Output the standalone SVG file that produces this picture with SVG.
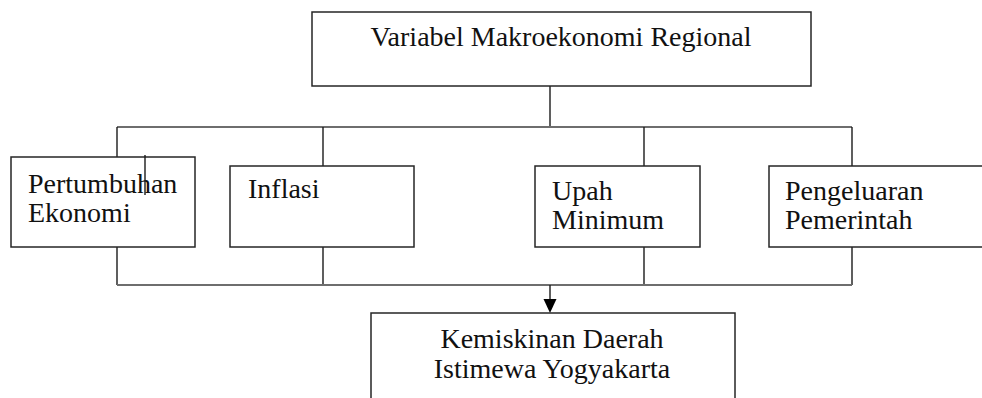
<svg xmlns="http://www.w3.org/2000/svg" width="982" height="398" viewBox="0 0 982 398">
  <style>
    .box { fill: #ffffff; stroke: #262626; stroke-width: 1.5; }
    .v { stroke: #1a1a1a; stroke-width: 1.4; fill: none; }
    .h { stroke: #6e6e6e; stroke-width: 2.2; fill: none; }
    text { font-family: "Liberation Serif", "Times New Roman", serif; font-size: 28px; fill: #111111; }
    .c { text-anchor: middle; }
  </style>
  <rect width="982" height="398" fill="#ffffff"/>

  <g id="connectors">
    <!-- trunk from the top box down to the upper bus -->
    <line class="v" x1="550" y1="86" x2="550" y2="127"/>
    <!-- upper bus -->
    <line class="h" x1="117" y1="127" x2="852" y2="127"/>
    <!-- drops to each variable box -->
    <line class="v" x1="117" y1="127" x2="117" y2="157"/>
    <line class="v" x1="323" y1="127" x2="323" y2="166"/>
    <line class="v" x1="644" y1="127" x2="644" y2="166"/>
    <line class="v" x1="852" y1="127" x2="852" y2="166"/>
    <!-- rises from each variable box to the lower bus -->
    <line class="v" x1="117" y1="247" x2="117" y2="285"/>
    <line class="v" x1="323" y1="247" x2="323" y2="285"/>
    <line class="v" x1="644" y1="247" x2="644" y2="285"/>
    <line class="v" x1="852" y1="247" x2="852" y2="285"/>
    <!-- lower bus -->
    <line class="h" x1="117" y1="285" x2="852" y2="285"/>
    <!-- arrow into the outcome box -->
    <line class="v" x1="550" y1="285" x2="550" y2="300"/>
    <path d="M543.5,299 L556.5,299 L550,313 Z" fill="#000000"/>
  </g>

  <g id="node-variabel">
    <rect class="box" x="312" y="12" width="499" height="74"/>
    <text class="c" x="561" y="46">Variabel Makroekonomi Regional</text>
  </g>

  <g id="node-pertumbuhan">
    <rect class="box" x="11" y="157" width="184" height="90"/>
    <text x="28" y="193">Pertumbuhan</text>
    <text x="28" y="222">Ekonomi</text>
    <line class="v" x1="145" y1="155" x2="145" y2="195"/>
  </g>

  <g id="node-inflasi">
    <rect class="box" x="230" y="166" width="184" height="81"/>
    <text x="248" y="198">Inflasi</text>
  </g>

  <g id="node-upah">
    <rect class="box" x="535" y="166" width="165" height="81"/>
    <text x="552" y="200">Upah</text>
    <text x="552" y="229">Minimum</text>
  </g>

  <g id="node-pengeluaran">
    <rect class="box" x="769" y="166" width="220" height="81"/>
    <text x="785" y="200">Pengeluaran</text>
    <text x="785" y="229">Pemerintah</text>
  </g>

  <g id="node-kemiskinan">
    <rect class="box" x="371" y="313" width="364" height="100"/>
    <text class="c" x="552" y="348">Kemiskinan Daerah</text>
    <text class="c" x="552" y="378">Istimewa Yogyakarta</text>
  </g>
</svg>
